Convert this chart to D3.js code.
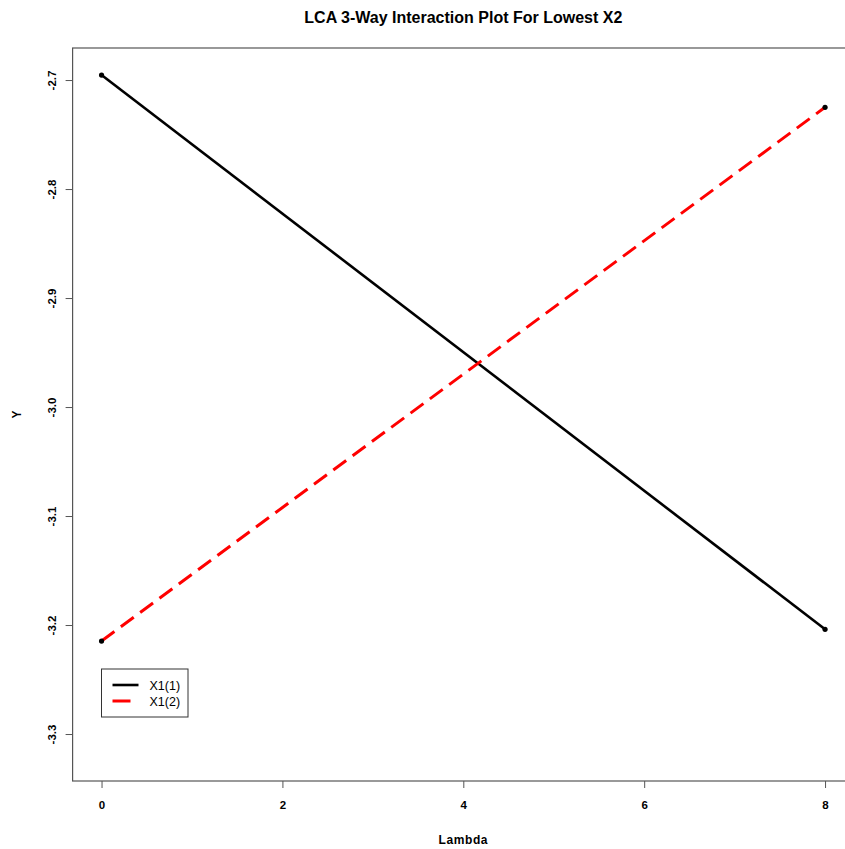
<!DOCTYPE html>
<html>
<head>
<meta charset="utf-8">
<script src="https://cdn.jsdelivr.net/npm/d3@7"></script>
<style>
  html, body { margin: 0; padding: 0; background: #fff; }
  svg { display: block; font-family: "Liberation Sans", Arial, Helvetica, sans-serif; }
</style>
</head>
<body>
<svg id="chart" width="845" height="849"></svg>
<script>
// Lambda values and predicted Y for each X1 level
const lambda = [0, 8];
const seriesNames = ["X1(1)", "X1(2)"];
const x1Level1 = [-2.6954, -3.2039];
const x1Level2 = [-3.2147, -2.7250];
const xTicks = [0, 2, 4, 6, 8];
const yTicks = [-2.7, -2.8, -2.9, -3.0, -3.1, -3.2, -3.3];

const svg = d3.select("#chart");
const plot = { left: 72.6, right: 854, top: 48, bottom: 781 };

const x = d3.scaleLinear().domain([-0.32, 8.32]).range([plot.left, plot.right]);
const y = d3.scaleLinear().domain([-3.3431, -2.6706]).range([plot.bottom, plot.top]);

// plain hyphen for negative numbers
const fmtY = d => d.toFixed(1);

// title
svg.append("text")
  .attr("x", (plot.left + plot.right) / 2)
  .attr("y", 23)
  .attr("text-anchor", "middle")
  .attr("font-size", 16)
  .attr("font-weight", "bold")
  .text("LCA 3-Way Interaction Plot For Lowest X2");

// axes
const xAxis = d3.axisBottom(x).tickValues(xTicks).tickSize(7).tickPadding(13)
  .tickFormat(d3.format("d"));
const gx = svg.append("g").attr("transform", `translate(0,${plot.bottom})`).call(xAxis);
gx.select(".domain").remove();
gx.selectAll(".tick line").attr("stroke", "#555");
gx.selectAll(".tick text").attr("font-size", 11.5).attr("font-weight", "bold")
  .attr("font-family", "Liberation Sans, Arial, sans-serif").attr("fill", "#000");

const yAxis = d3.axisLeft(y).tickValues(yTicks).tickSize(7).tickFormat(fmtY);
const gy = svg.append("g").attr("transform", `translate(${plot.left},0)`).call(yAxis);
gy.select(".domain").remove();
gy.selectAll(".tick line").attr("stroke", "#555");
gy.selectAll(".tick text")
  .attr("font-size", 11.5).attr("font-weight", "bold")
  .attr("font-family", "Liberation Sans, Arial, sans-serif").attr("fill", "#000")
  .attr("x", 0).attr("dy", 0)
  .attr("text-anchor", "middle")
  .attr("transform", "translate(-16.5,0) rotate(-90)");

// plot frame
svg.append("rect")
  .attr("x", plot.left).attr("y", plot.top)
  .attr("width", plot.right - plot.left).attr("height", plot.bottom - plot.top)
  .attr("fill", "none").attr("stroke", "#555").attr("stroke-width", 1.2);

// axis titles
svg.append("text")
  .attr("x", (plot.left + plot.right) / 2).attr("y", 844)
  .attr("text-anchor", "middle").attr("font-size", 12).attr("font-weight", "bold")
  .attr("letter-spacing", 0.6)
  .text("Lambda");
svg.append("text")
  .attr("transform", `translate(21,${(plot.top + plot.bottom) / 2}) rotate(-90)`)
  .attr("text-anchor", "middle").attr("font-size", 12).attr("font-weight", "bold")
  .text("Y");

// lines
const series = [
  { name: seriesNames[0], values: x1Level1, color: "#000", dash: null, width: 2.6 },
  { name: seriesNames[1], values: x1Level2, color: "#ff0000", dash: "16,8", width: 3 }
];
const line = d3.line().x((d, i) => x(lambda[i])).y(d => y(d));

series.forEach(s => {
  svg.append("path")
    .datum(s.values)
    .attr("d", line)
    .attr("fill", "none")
    .attr("stroke", s.color)
    .attr("stroke-width", s.width)
    .attr("stroke-dasharray", s.dash);
});
series.forEach(s => {
  svg.selectAll(null)
    .data(s.values)
    .enter().append("circle")
    .attr("cx", (d, i) => x(lambda[i]))
    .attr("cy", d => y(d))
    .attr("r", 2.6)
    .attr("fill", "#000");
});

// legend
const lg = svg.append("g").attr("transform", "translate(101.5,669)");
lg.append("rect").attr("width", 86.5).attr("height", 48)
  .attr("fill", "#fff").attr("stroke", "#333").attr("stroke-width", 1);
series.forEach((s, i) => {
  const yy = 16 + i * 16;
  lg.append("line").attr("x1", 11).attr("x2", 37).attr("y1", yy).attr("y2", yy)
    .attr("stroke", s.color).attr("stroke-width", s.width)
    .attr("stroke-dasharray", s.dash ? "18,8" : null);
  lg.append("text").attr("x", 48).attr("y", yy + 4.5)
    .attr("font-size", 12.5).attr("fill", "#000").text(s.name);
});
</script>
</body>
</html>
